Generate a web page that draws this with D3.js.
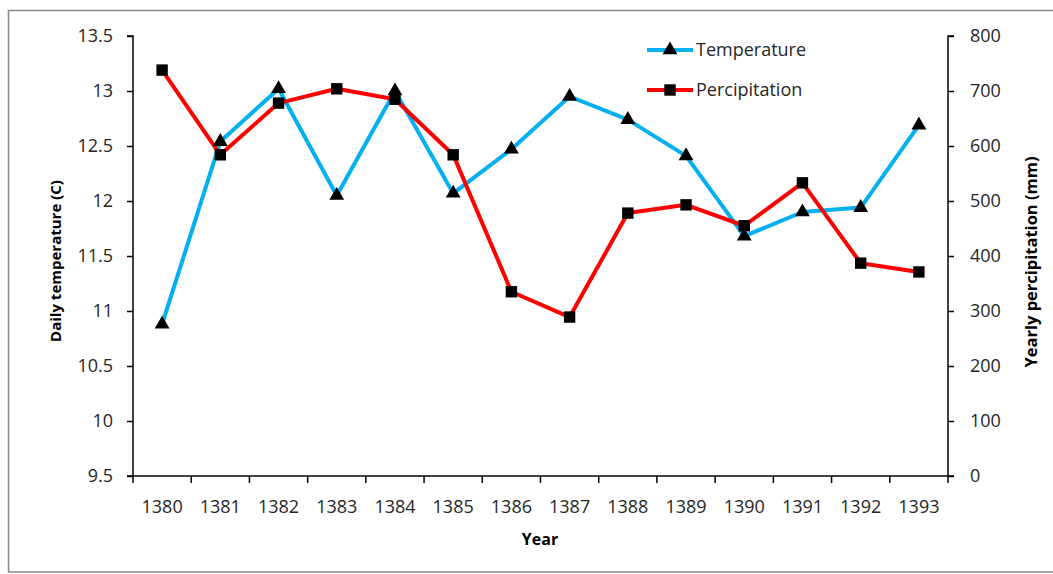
<!DOCTYPE html>
<html>
<head>
<meta charset="utf-8">
<script src="https://cdn.jsdelivr.net/npm/d3@7"></script>
<style>
  body { margin: 0; background: #fff; }
  svg { display: block; }
</style>
</head>
<body>
<svg id="chart" width="1053" height="574"></svg>
<script>
const years = ['1380', '1381', '1382', '1383', '1384', '1385', '1386', '1387', '1388', '1389', '1390', '1391', '1392', '1393'];
const temperature = [10.88, 12.54, 13.02, 12.05, 13.0, 12.07, 12.47, 12.95, 12.74, 12.41, 11.68, 11.9, 11.94, 12.69];
const precipitation = [738, 584, 678, 704, 685, 584, 335, 289, 478, 493, 455, 533, 387, 371];
const tempTicks = [9.5, 10, 10.5, 11, 11.5, 12, 12.5, 13, 13.5];
const precTicks = [0, 100, 200, 300, 400, 500, 600, 700, 800];

const width = 1053;
const height = 574;
const margin = { top: 36, right: 105, bottom: 98, left: 133 };
const font = 'Open Sans, sans-serif';
const textColor = '#262626';

const svg = d3.select('#chart');

// outer frame (only top and left visible in the original)
svg.append('rect')
  .attr('x', 8.5).attr('y', 10.5)
  .attr('width', 1060).attr('height', 561.5)
  .attr('fill', 'none')
  .attr('stroke', '#888')
  .attr('stroke-width', 1.5);

const x = d3.scaleBand()
  .domain(years)
  .range([margin.left, width - margin.right]);

const yT = d3.scaleLinear()
  .domain([9.5, 13.5])
  .range([height - margin.bottom, margin.top]);

const yP = d3.scaleLinear()
  .domain([0, 800])
  .range([height - margin.bottom, margin.top]);

function styleAxis(g) {
  g.selectAll('path, line').attr('stroke', '#000').attr('stroke-width', 1.5);
  g.selectAll('text')
    .attr('fill', textColor)
    .style('font-family', font)
    .style('font-size', '18px');
}

// x axis with ticks between categories
const xAxisG = svg.append('g')
  .attr('transform', `translate(0,${height - margin.bottom})`);
xAxisG.append('line')
  .attr('x1', margin.left).attr('x2', width - margin.right)
  .attr('y1', 0).attr('y2', 0);
xAxisG.selectAll('.tick')
  .data(years.concat(['end']))
  .enter()
  .append('line')
  .attr('x1', (d, i) => margin.left + i * x.step())
  .attr('x2', (d, i) => margin.left + i * x.step())
  .attr('y1', 0).attr('y2', 7);
xAxisG.selectAll('text')
  .data(years)
  .enter()
  .append('text')
  .attr('x', (d) => x(d) + x.bandwidth() / 2)
  .attr('y', 37)
  .attr('text-anchor', 'middle')
  .text((d) => d);
styleAxis(xAxisG);

const leftAxis = svg.append('g')
  .attr('transform', `translate(${margin.left},0)`)
  .call(d3.axisLeft(yT).tickValues(tempTicks).tickSize(6).tickPadding(14).tickFormat(d3.format('')));
styleAxis(leftAxis);

const rightAxis = svg.append('g')
  .attr('transform', `translate(${width - margin.right},0)`)
  .call(d3.axisRight(yP).tickValues(precTicks).tickSize(6).tickPadding(16));
styleAxis(rightAxis);
leftAxis.select('.domain').attr('d', `M-6,${yT(9.5)}H0V${yT(13.5)}H-6`);
rightAxis.select('.domain').attr('d', `M6,${yP(0)}H0V${yP(800)}H6`);

// axis titles
svg.append('text')
  .attr('x', 540)
  .attr('y', 545)
  .attr('text-anchor', 'middle')
  .style('font-family', font)
  .style('font-weight', 'bold')
  .style('font-size', '16px')
  .attr('fill', '#000')
  .text('Year');

svg.append('text')
  .attr('transform', `translate(61,261) rotate(-90)`)
  .attr('text-anchor', 'middle')
  .style('font-family', font)
  .style('font-weight', 'bold')
  .style('font-size', '15px')
  .attr('fill', '#000')
  .text('Daily temperature (C)');

svg.append('text')
  .attr('transform', `translate(1037,262) rotate(-90)`)
  .attr('text-anchor', 'middle')
  .style('font-family', font)
  .style('font-weight', 'bold')
  .style('font-size', '16.5px')
  .attr('fill', '#000')
  .text('Yearly percipitation (mm)');

const cx = (i) => x(years[i]) + x.bandwidth() / 2;
const triangle = d3.symbol().type(d3.symbolTriangle).size(95);
const square = d3.symbol().type(d3.symbolSquare).size(130);

// temperature series
svg.append('path')
  .datum(temperature)
  .attr('fill', 'none')
  .attr('stroke', '#00b0f0')
  .attr('stroke-width', 4)
  .attr('stroke-linejoin', 'round')
  .attr('d', d3.line().x((d, i) => cx(i)).y((d) => yT(d)));

// precipitation series
svg.append('path')
  .datum(precipitation)
  .attr('fill', 'none')
  .attr('stroke', '#ff0000')
  .attr('stroke-width', 4)
  .attr('stroke-linejoin', 'round')
  .attr('d', d3.line().x((d, i) => cx(i)).y((d) => yP(d)));

svg.selectAll('.tri')
  .data(temperature)
  .enter()
  .append('path')
  .attr('class', 'tri')
  .attr('transform', (d, i) => `translate(${cx(i)},${yT(d)})`)
  .attr('d', triangle)
  .attr('fill', '#000');

svg.selectAll('.sq')
  .data(precipitation)
  .enter()
  .append('path')
  .attr('class', 'sq')
  .attr('transform', (d, i) => `translate(${cx(i)},${yP(d)})`)
  .attr('d', square)
  .attr('fill', '#000');

// legend
const legend = [
  { name: 'Temperature', color: '#00b0f0', symbol: triangle, y: 50 },
  { name: 'Percipitation', color: '#ff0000', symbol: square, y: 90 },
];
const lg = svg.append('g');
legend.forEach((d) => {
  lg.append('line')
    .attr('x1', 647).attr('x2', 693)
    .attr('y1', d.y).attr('y2', d.y)
    .attr('stroke', d.color)
    .attr('stroke-width', 4);
  lg.append('path')
    .attr('transform', `translate(670,${d.y})`)
    .attr('d', d.symbol)
    .attr('fill', '#000');
  lg.append('text')
    .attr('x', 696)
    .attr('y', d.y)
    .attr('dy', '0.35em')
    .style('font-family', font)
    .style('font-size', '18px')
    .attr('fill', textColor)
    .text(d.name);
});
</script>
</body>
</html>
